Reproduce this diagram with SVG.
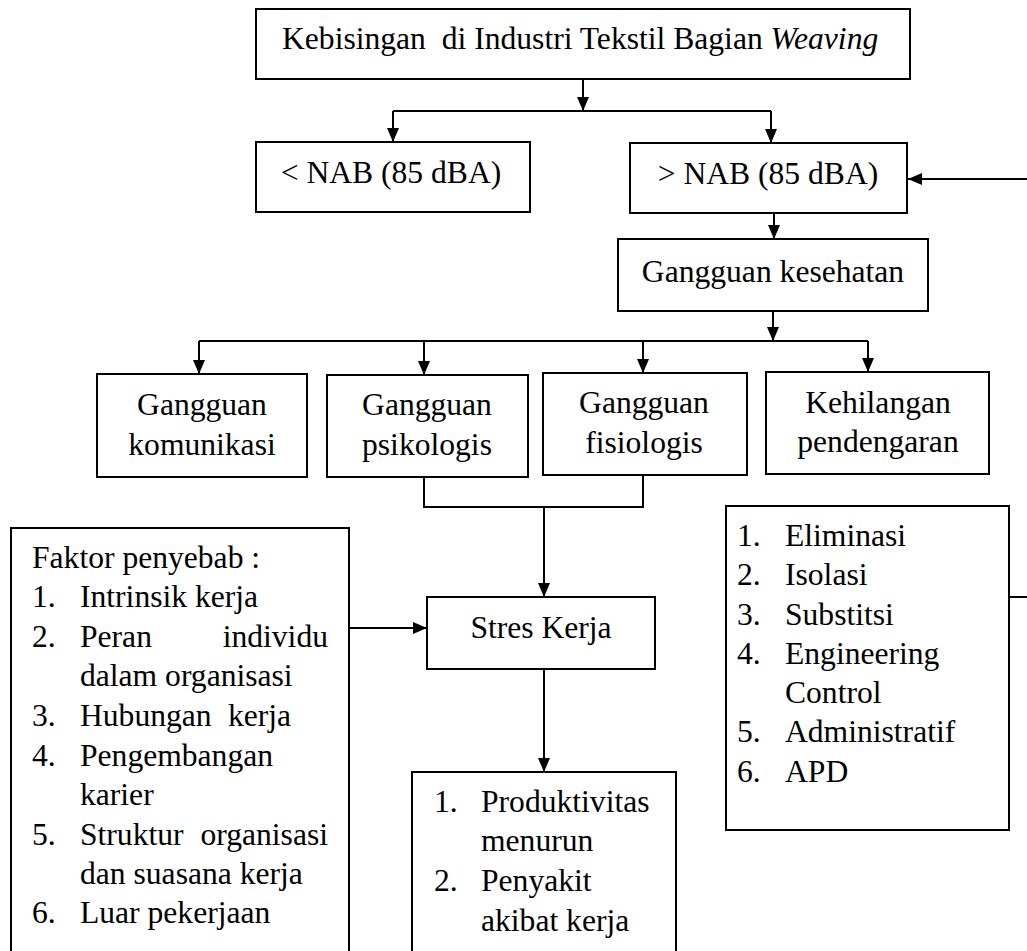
<svg xmlns="http://www.w3.org/2000/svg" width="1027" height="951" viewBox="0 0 1027 951" font-family="'Liberation Serif', 'Times New Roman', Times, 'DejaVu Serif', serif">
<style>
.box{fill:#fff;stroke:#000;stroke-width:2}
.t{font-family:'Liberation Serif','Times New Roman',Times,'DejaVu Serif',serif;font-size:31.6px;fill:#000}
.c{text-anchor:middle}
.e{text-anchor:end}
.ln{fill:none;stroke:#000;stroke-width:2}
.ar{fill:none;stroke:#000;stroke-width:2;marker-end:url(#ah)}
</style>
<defs>
<marker id="ah" viewBox="0 0 14 12" refX="14" refY="6" markerWidth="14" markerHeight="12" markerUnits="userSpaceOnUse" orient="auto">
<path d="M0,0 L14,6 L0,12 z" fill="#000"/>
</marker>
</defs>
<rect width="1027" height="951" fill="#fff"/>
<g id="connectors">
<path class="ar" d="M583 79 V111"/>
<path class="ln" d="M393 111 H771"/>
<path class="ar" d="M393 111 V142"/>
<path class="ar" d="M771 111 V143"/>
<path class="ar" d="M1027 179 H908"/>
<path class="ar" d="M774 213 V239"/>
<path class="ar" d="M773 311 V341"/>
<path class="ln" d="M199 341 H868"/>
<path class="ar" d="M199 341 V374"/>
<path class="ar" d="M424 341 V375"/>
<path class="ar" d="M643 341 V373"/>
<path class="ar" d="M868 341 V372"/>
<path class="ln" d="M424 477 V507 H643 V475"/>
<path class="ar" d="M544 507 V597"/>
<path class="ar" d="M349 628 H427"/>
<path class="ar" d="M544 669 V772"/>
<path class="ln" d="M1009 597 H1027"/>
</g>
<g id="title">
<rect class="box" x="256" y="9" width="654" height="70"/>
<text class="t" x="282" y="49" xml:space="preserve" style="white-space:pre">Kebisingan  di Industri Tekstil Bagian <tspan font-style="italic">Weaving</tspan></text>
</g>
<g id="below-nab">
<rect class="box" x="256" y="142" width="274" height="70"/>
<text class="t c" x="391" y="183">&lt; NAB (85 dBA)</text>
</g>
<g id="above-nab">
<rect class="box" x="630" y="143" width="277" height="70"/>
<text class="t c" x="768" y="184">&gt; NAB (85 dBA)</text>
</g>
<g id="gangguan-kesehatan">
<rect class="box" x="618" y="239" width="310" height="72"/>
<text class="t c" x="773" y="282">Gangguan kesehatan</text>
</g>
<g id="komunikasi">
<rect class="box" x="97" y="374" width="210" height="103"/>
<text class="t c" x="202" y="415">Gangguan</text>
<text class="t c" x="202" y="455">komunikasi</text>
</g>
<g id="psikologis">
<rect class="box" x="327" y="375" width="201" height="102"/>
<text class="t c" x="427" y="415">Gangguan</text>
<text class="t c" x="427" y="455">psikologis</text>
</g>
<g id="fisiologis">
<rect class="box" x="543" y="373" width="204" height="102"/>
<text class="t c" x="644" y="413">Gangguan</text>
<text class="t c" x="644" y="453">fisiologis</text>
</g>
<g id="kehilangan">
<rect class="box" x="766" y="372" width="223" height="102"/>
<text class="t c" x="878" y="413">Kehilangan</text>
<text class="t c" x="878" y="452">pendengaran</text>
</g>
<g id="faktor">
<rect class="box" x="11" y="528" width="338" height="440"/>
<text class="t" x="32" y="568">Faktor penyebab :</text>
<text class="t" x="32" y="607">1.</text><text class="t" x="80" y="607">Intrinsik kerja</text>
<text class="t" x="32" y="647">2.</text><text class="t" x="80" y="647">Peran</text><text class="t e" x="328" y="647">individu</text>
<text class="t" x="80" y="686">dalam organisasi</text>
<text class="t" x="32" y="726">3.</text><text class="t" x="80" y="726">Hubungan</text><text class="t" x="228" y="726">kerja</text>
<text class="t" x="32" y="766">4.</text><text class="t" x="80" y="766">Pengembangan</text>
<text class="t" x="80" y="805">karier</text>
<text class="t" x="32" y="845">5.</text><text class="t" x="80" y="845">Struktur</text><text class="t e" x="328" y="845">organisasi</text>
<text class="t" x="80" y="884">dan suasana kerja</text>
<text class="t" x="32" y="923">6.</text><text class="t" x="80" y="923">Luar pekerjaan</text>
</g>
<g id="stres-kerja">
<rect class="box" x="427" y="597" width="228" height="72"/>
<text class="t c" x="541" y="638">Stres Kerja</text>
</g>
<g id="dampak">
<rect class="box" x="412" y="772" width="264" height="200"/>
<text class="t" x="434" y="812">1.</text><text class="t" x="481" y="812">Produktivitas</text>
<text class="t" x="481" y="851">menurun</text>
<text class="t" x="434" y="891">2.</text><text class="t" x="481" y="891">Penyakit</text>
<text class="t" x="481" y="931">akibat kerja</text>
</g>
<g id="pengendalian">
<rect class="box" x="726" y="506" width="283" height="324"/>
<text class="t" x="737" y="546">1.</text><text class="t" x="785" y="546">Eliminasi</text>
<text class="t" x="737" y="585">2.</text><text class="t" x="785" y="585">Isolasi</text>
<text class="t" x="737" y="625">3.</text><text class="t" x="785" y="625">Substitsi</text>
<text class="t" x="737" y="664">4.</text><text class="t" x="785" y="664">Engineering</text>
<text class="t" x="785" y="703">Control</text>
<text class="t" x="737" y="742">5.</text><text class="t" x="785" y="742">Administratif</text>
<text class="t" x="737" y="782">6.</text><text class="t" x="785" y="782">APD</text>
</g>
</svg>
